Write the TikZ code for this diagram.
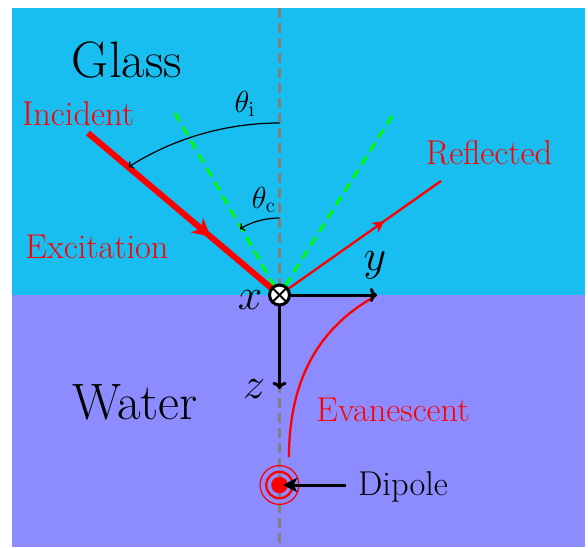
\documentclass[tikz,border=0pt]{standalone}
\usetikzlibrary{arrows.meta,decorations.markings}
\definecolor{glasscol}{RGB}{24,190,240}
\definecolor{watercol}{RGB}{140,140,255}
\definecolor{axisgray}{RGB}{128,128,128}
\begin{document}
\begin{tikzpicture}[x=0.5663pt,y=-0.5663pt,
  lbl/.style={inner sep=0pt,font=\LARGE},
  redlbl/.style={inner sep=0pt,font=\fontsize{19.5}{23}\selectfont,text=red},
  dlbl/.style={inner sep=0pt,font=\fontsize{19.5}{23}\selectfont},
  medium/.style={inner sep=0pt,font=\fontsize{29}{34}\selectfont},
  big/.style={inner sep=0pt,font=\Huge},
  normline/.style={draw=axisgray,line width=1.4pt,dash pattern=on 5.5pt off 3pt},
  critline/.style={draw=green,line width=1.6pt,dash pattern=on 5.5pt off 3.5pt},
  incray/.style={draw=red,line width=3.4pt,postaction={decorate},
    decoration={markings,mark=at position 0.64 with {\arrow{Stealth[length=10pt,width=10.5pt,inset=3pt]}}}},
  refray/.style={draw=red,line width=1.3pt,postaction={decorate},
    decoration={markings,mark=at position 0.65 with {\arrow{Stealth[length=6.5pt,width=6.5pt,inset=1.8pt]}}}},
  evan/.style={draw=red,line width=1.3pt},
  axisline/.style={draw=black,line width=1.7pt,-{To[length=4pt,width=8pt]}},
  anglearc/.style={draw=black,line width=0.7pt,-{To[length=2.5pt,width=5pt]}},
  dipar/.style={draw=black,line width=1.7pt,-{Stealth[length=8pt,width=8pt,inset=2pt]}}
]
\useasboundingbox (0,0) rectangle (588,547);
% media
\fill[glasscol] (12,8) rectangle (585,295);
\fill[watercol] (12,295) rectangle (585,547);
% normal
\coordinate (ntop) at (279.5,8);
\coordinate (nbot) at (279.5,547);
\draw[normline] (ntop) -- (nbot);
% key points
\coordinate (o) at (279.5,295);
\coordinate (inc) at (88,133);
\coordinate (refl) at (441,181);
\coordinate (cl) at (175,113);
\coordinate (cr) at (392,116);
% critical angle lines
\draw[critline] (cl) -- (o);
\draw[critline] (cr) -- (o);
% rays
\draw[incray] (inc) -- (o);
\draw[refray] (o) -- (refl);
% angle arcs
\coordinate (ti1) at (279.5,123);
\coordinate (ti2) at (128.5,167);
\draw[anglearc] (ti1) .. controls (226,123) and (173.6,138.3) .. (ti2);
\coordinate (tc1) at (279.5,218);
\coordinate (tc2) at (239.8,229);
\draw[anglearc] (tc1) .. controls (265.5,218) and (251.8,221.8) .. (tc2);
\node[lbl] (thi) at (245,104) {$\theta_{\mathrm{i}}$};
\node[lbl] (thc) at (264,200) {$\theta_{\mathrm{c}}$};
% evanescent
\coordinate (ev1) at (289,457);
\coordinate (ev2) at (374,297);
\draw[evan] (ev1) .. controls (289,385) and (315,330) .. (ev2);
% axes
\node[circle,draw=black,line width=1.7pt,fill=white,minimum size=11.3pt,inner sep=0pt] (oc) at (o) {};
\draw[line width=1.1pt] (oc.north west) -- (oc.south east);
\draw[line width=1.1pt] (oc.north east) -- (oc.south west);
\coordinate (yend) at (377,295);
\coordinate (zend) at (279.5,389);
\draw[axisline] (oc.east) -- (yend);
\draw[axisline] (oc.south) -- (zend);
\node[big] (xl) at (250,300) {$x$};
\node[big] (yl) at (375,265) {$y$};
\node[big] (zl) at (254,389) {$z$};
% dipole
\node[circle,draw=red,line width=0.7pt,minimum size=22pt,inner sep=0pt] (dring2) at (279.5,485) {};
\node[circle,draw=red,line width=1.3pt,minimum size=15pt,inner sep=0pt] (dring1) at (279.5,485) {};
\node[circle,fill=red,minimum size=9.4pt,inner sep=0pt] (dip) at (279.5,485) {};
\node[dlbl,anchor=center] (dlab) at (403,486.5) {Dipole};
\draw[dipar,shorten <=6.5pt,shorten >=2pt] (dip -| dlab.west) -- (dip.center);
% labels
\node[medium] (glass) at (127,60) {Glass};
\node[medium] (water) at (135,402) {Water};
\node[redlbl] (incl) at (78,114) {Incident};
\node[redlbl] (excl) at (97,247) {Excitation};
\node[redlbl] (refll) at (489,153) {Reflected};
\node[redlbl] (evl) at (393,410) {Evanescent};
\end{tikzpicture}
\end{document}
